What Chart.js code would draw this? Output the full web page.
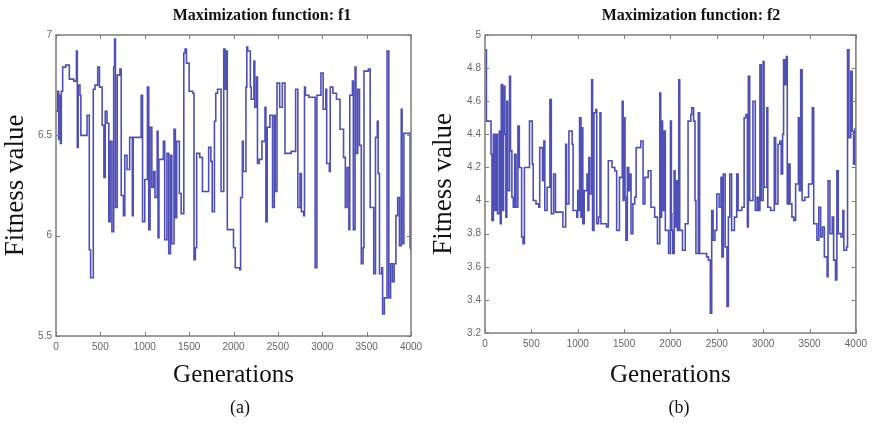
<!DOCTYPE html>
<html>
<head>
<meta charset="utf-8">
<script src="https://cdn.jsdelivr.net/npm/chart.js@4.4.1/dist/chart.umd.min.js"></script>
<style>
  body { margin: 0; background: #fff; }
  #wrap { position: relative; width: 872px; height: 423px; overflow: hidden; }
  canvas { position: absolute; top: 0; }
  .lbl { position: absolute; font-family: "Liberation Serif", serif; color: #111; white-space: nowrap; transform: translate(-50%, -50%); }
  .ttl { font-weight: bold; font-size: 16px; }
  .cap { font-size: 18px; }
</style>
</head>
<body>
<div id="wrap">
  <canvas id="chartA" width="436" height="423" style="left:0px"></canvas>
  <canvas id="chartB" width="444" height="423" style="left:428px"></canvas>
  <div class="lbl ttl" style="left:262px; top:15px">Maximization function: f1</div>
  <div class="lbl ttl" style="left:691px; top:15px">Maximization function: f2</div>
  <div class="lbl cap" style="left:240px; top:407px">(a)</div>
  <div class="lbl cap" style="left:679px; top:407px">(b)</div>
</div>
<script>
// generation ticks shared by both panels
const genTicks = [0, 500, 1000, 1500, 2000, 2500, 3000, 3500, 4000];

// panel (a) - f1
const fitTicksA = [5.5, 6, 6.5, 7];
const genA = [0, 20, 30, 40, 50, 60, 75, 110, 150, 200, 230, 240, 250, 270, 280, 340, 350, 375, 390, 420,
  440, 470, 490, 520, 540, 555, 575, 595, 610, 630, 650, 660, 670, 690, 720, 735, 760, 775, 800, 830,
  860, 870, 930, 960, 975, 1000, 1030, 1045, 1060, 1080, 1100, 1115, 1140, 1150, 1160, 1210, 1225, 1250, 1270, 1290,
  1305, 1330, 1345, 1360, 1390, 1410, 1440, 1455, 1470, 1500, 1540, 1555, 1570, 1585, 1620, 1650, 1690, 1720, 1745, 1760,
  1785, 1800, 1820, 1860, 1890, 1905, 1915, 1930, 1970, 2000, 2020, 2070, 2080, 2100, 2110, 2140, 2150, 2160, 2190, 2200,
  2230, 2240, 2260, 2270, 2290, 2320, 2355, 2365, 2380, 2410, 2440, 2460, 2470, 2490, 2520, 2550, 2580, 2650, 2700, 2725,
  2750, 2765, 2790, 2800, 2810, 2850, 2920, 2940, 2985, 3010, 3040, 3050, 3080, 3090, 3120, 3160, 3200, 3240, 3260, 3280,
  3300, 3310, 3340, 3350, 3370, 3380, 3400, 3420, 3440, 3460, 3470, 3520, 3540, 3580, 3600, 3620, 3630, 3645, 3670, 3680,
  3700, 3730, 3750, 3770, 3790, 3810, 3830, 3850, 3870, 3890, 3900, 3920, 3975, 3990, 4000];
const fitA = [6.62, 6.72, 6.48, 6.70, 6.46, 6.72, 6.84, 6.85, 6.78, 6.77, 6.92, 6.44, 6.75, 6.70, 6.50, 6.50, 6.60, 5.93, 5.79, 6.73,
  6.75, 6.84, 6.74, 6.55, 6.29, 6.62, 6.56, 6.07, 6.47, 6.02, 6.84, 6.98, 6.14, 6.80, 6.83, 6.20, 6.10, 6.40, 6.33, 6.49,
  6.10, 6.49, 6.49, 6.70, 6.07, 6.28, 6.74, 6.03, 6.54, 6.24, 6.32, 6.19, 6.52, 5.99, 6.38, 6.47, 5.98, 6.41, 5.91, 6.40,
  5.96, 6.53, 6.09, 6.47, 6.21, 6.11, 6.91, 6.93, 6.86, 6.72, 6.71, 5.88, 5.94, 6.41, 6.39, 6.22, 6.22, 6.44, 6.37, 6.12,
  6.57, 6.71, 6.73, 6.22, 6.93, 6.73, 6.92, 6.03, 6.03, 5.94, 5.84, 5.83, 6.19, 6.47, 6.32, 6.74, 6.94, 6.92, 6.74, 6.68,
  6.87, 6.64, 6.79, 6.36, 6.38, 6.47, 6.64, 6.07, 6.54, 6.60, 6.14, 6.60, 6.22, 6.76, 6.64, 6.76, 6.41, 6.42, 6.73, 6.14,
  6.31, 6.12, 6.10, 6.74, 6.70, 6.69, 5.84, 6.70, 6.81, 6.63, 6.73, 6.36, 6.32, 6.74, 6.71, 6.68, 6.53, 6.39, 6.14, 6.34,
  6.03, 6.70, 6.77, 6.03, 6.84, 6.41, 6.73, 6.45, 5.86, 5.94, 6.82, 6.83, 6.14, 5.81, 6.49, 6.57, 6.31, 5.81, 5.84, 5.61,
  5.69, 6.92, 5.69, 5.86, 5.77, 5.86, 6.10, 6.19, 5.95, 6.63, 5.96, 6.51, 6.51, 5.94, 5.92];

// panel (b) - f2
const fitTicksB = [3.2, 3.4, 3.6, 3.8, 4, 4.2, 4.4, 4.6, 4.8, 5];
const genB = [0, 15, 65, 75, 90, 105, 120, 135, 155, 165, 175, 190, 200, 215, 225, 235, 245, 265, 275, 290,
  305, 320, 335, 355, 370, 395, 410, 425, 480, 510, 520, 550, 580, 590, 620, 635, 645, 670, 700, 715,
  740, 760, 840, 870, 880, 905, 940, 950, 990, 1000, 1010, 1020, 1035, 1045, 1055, 1070, 1100, 1110, 1120, 1130,
  1150, 1160, 1175, 1195, 1205, 1225, 1240, 1250, 1290, 1310, 1330, 1370, 1400, 1420, 1450, 1480, 1490, 1500, 1510, 1520,
  1535, 1550, 1565, 1575, 1595, 1615, 1630, 1680, 1705, 1725, 1760, 1790, 1830, 1860, 1885, 1895, 1905, 1915, 1930, 1945,
  1980, 2000, 2010, 2015, 2025, 2040, 2050, 2060, 2075, 2090, 2100, 2130, 2160, 2190, 2220, 2230, 2250, 2265, 2275, 2300,
  2315, 2390, 2410, 2430, 2445, 2460, 2480, 2500, 2525, 2545, 2555, 2570, 2590, 2610, 2625, 2640, 2660, 2690, 2715, 2730,
  2770, 2795, 2815, 2830, 2840, 2855, 2890, 2915, 2935, 2950, 2965, 2980, 3000, 3010, 3040, 3050, 3080, 3120, 3135, 3160,
  3180, 3195, 3210, 3220, 3235, 3250, 3260, 3275, 3290, 3310, 3330, 3350, 3380, 3390, 3405, 3420, 3450, 3490, 3530, 3545,
  3580, 3600, 3620, 3640, 3660, 3690, 3700, 3720, 3745, 3760, 3780, 3795, 3810, 3840, 3860, 3870, 3900, 3910, 3925, 3945,
  3960, 3975, 3990];
const fitB = [4.91, 4.48, 4.28, 3.88, 4.40, 3.94, 4.40, 3.92, 4.42, 3.86, 4.70, 3.94, 4.69, 4.40, 3.90, 4.60, 4.06, 4.75, 4.30, 4.02,
  3.96, 4.28, 3.96, 4.45, 4.20, 3.78, 3.74, 4.20, 4.48, 4.22, 4.00, 3.98, 3.96, 4.32, 4.12, 4.36, 3.94, 4.08, 4.61, 3.92,
  4.16, 3.93, 3.84, 4.34, 3.98, 4.42, 4.34, 3.94, 3.90, 4.06, 3.94, 4.50, 3.90, 4.44, 3.86, 4.06, 4.16, 3.94, 4.26, 4.04,
  4.73, 3.82, 4.53, 4.55, 3.86, 3.90, 4.53, 3.86, 3.86, 3.84, 4.24, 4.20, 4.18, 3.82, 4.14, 4.60, 4.00, 4.50, 4.02, 3.76,
  4.20, 4.06, 4.16, 3.80, 3.98, 4.02, 4.32, 4.36, 3.98, 4.14, 4.18, 3.96, 3.90, 3.74, 4.65, 3.90, 4.48, 3.94, 4.42, 3.82,
  3.68, 4.48, 3.92, 3.82, 3.68, 4.18, 3.84, 4.12, 3.82, 4.73, 3.82, 3.70, 3.86, 4.48, 4.52, 4.56, 4.48, 4.00, 3.68, 4.53,
  3.68, 3.66, 3.64, 3.32, 3.94, 3.76, 3.82, 4.04, 3.96, 4.14, 3.66, 4.16, 3.72, 3.36, 3.90, 4.16, 3.82, 3.90, 4.16, 3.94,
  3.96, 4.50, 4.52, 3.84, 4.75, 4.00, 4.60, 3.94, 4.02, 3.94, 4.82, 4.00, 4.84, 4.08, 4.56, 3.96, 3.94, 4.38, 3.98, 4.34,
  4.36, 4.16, 4.40, 4.85, 4.70, 4.87, 3.98, 4.22, 3.98, 3.90, 3.88, 4.10, 4.50, 4.06, 4.79, 4.00, 4.02, 4.10, 4.56, 3.86,
  3.76, 3.96, 3.78, 3.84, 3.66, 3.54, 4.12, 3.80, 3.90, 3.64, 3.52, 4.18, 3.80, 3.78, 3.94, 3.70, 3.72, 4.91, 4.38, 4.78,
  4.42, 4.22, 4.44];

// matlab-like box with inward ticks on all four sides
const boxTicks = {
    id: 'boxTicks',
    afterDatasetsDraw(chart) {
        const { ctx, chartArea: a, scales: { x, y } } = chart;
        ctx.save();
        ctx.strokeStyle = '#7c7c7c';
        ctx.lineWidth = 1.5;
        ctx.strokeRect(a.left, a.top, a.right - a.left, a.bottom - a.top);
        ctx.lineWidth = 1;
        ctx.beginPath();
        x.ticks.forEach(t => {
            const px = Math.round(x.getPixelForValue(t.value)) + 0.5;
            ctx.moveTo(px, a.bottom); ctx.lineTo(px, a.bottom - 4);
            ctx.moveTo(px, a.top); ctx.lineTo(px, a.top + 4);
        });
        y.ticks.forEach(t => {
            const py = Math.round(y.getPixelForValue(t.value)) + 0.5;
            ctx.moveTo(a.left, py); ctx.lineTo(a.left + 4, py);
            ctx.moveTo(a.right, py); ctx.lineTo(a.right - 4, py);
        });
        ctx.stroke();
        ctx.restore();
    }
};

function fmt(v) {
    return String(Math.round(v * 10) / 10);
}

function createPanel(id, gens, fits, yTicks, yWidth, xHeight, padRight) {
    const ctx = document.getElementById(id).getContext('2d');
    const points = gens.map((g, i) => ({ x: g, y: fits[i] }));
    return new Chart(ctx, {
        type: 'line',
        data: {
            datasets: [{
                data: points,
                stepped: true,
                borderColor: 'rgba(48, 48, 172, 0.85)',
                borderWidth: 1.6,
                pointRadius: 0,
                fill: false
            }]
        },
        options: {
            responsive: false,
            animation: false,
            events: [],
            layout: { padding: { top: 35, right: padRight, bottom: 33, left: 0 } },
            plugins: { legend: { display: false }, tooltip: { enabled: false } },
            scales: {
                x: {
                    type: 'linear',
                    min: 0,
                    max: 4000,
                    afterBuildTicks: s => { s.ticks = genTicks.map(v => ({ value: v })); },
                    afterFit: s => { s.height = xHeight; },
                    grid: { display: false, drawTicks: false },
                    border: { display: false },
                    ticks: {
                        autoSkip: false, maxRotation: 0, padding: 5, color: '#666',
                        font: { family: 'Liberation Sans', size: 10 },
                        callback: v => String(v)
                    },
                    title: {
                        display: true, text: 'Generations', color: '#111', padding: 0,
                        font: { family: 'Liberation Serif', size: 25 }
                    }
                },
                y: {
                    type: 'linear',
                    min: yTicks[0],
                    max: yTicks[yTicks.length - 1],
                    afterBuildTicks: s => { s.ticks = yTicks.map(v => ({ value: v })); },
                    afterFit: s => { s.width = yWidth; },
                    grid: { display: false, drawTicks: false },
                    border: { display: false },
                    ticks: {
                        autoSkip: false, padding: 4, color: '#666',
                        font: { family: 'Liberation Sans', size: 10 },
                        callback: v => fmt(v)
                    },
                    title: {
                        display: true, text: 'Fitness value', color: '#111', padding: 0,
                        font: { family: 'Liberation Serif', size: 27 }
                    }
                }
            }
        },
        plugins: [boxTicks]
    });
}

createPanel('chartA', genA, fitA, fitTicksA, 56, 54, 25);
createPanel('chartB', genB, fitB, fitTicksB, 57, 57, 12);
</script>
</body>
</html>
